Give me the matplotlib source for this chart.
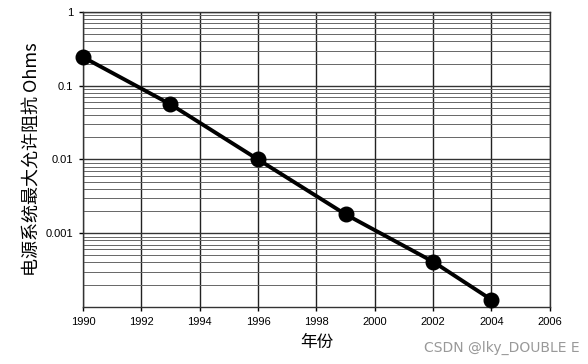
import matplotlib
matplotlib.use("Agg")
import matplotlib.pyplot as plt
from matplotlib.ticker import LogLocator, NullFormatter

plt.rcParams['font.family'] = ['Noto Sans CJK SC', 'DejaVu Sans']

years = [1990, 1993, 1996, 1999, 2002, 2004]
impedance = [0.245, 0.056, 0.010, 0.0018, 0.00041, 0.000125]
x_ticks = [1990, 1992, 1994, 1996, 1998, 2000, 2002, 2004, 2006]
y_ticks = [1, 0.1, 0.01, 0.001]
y_tick_labels = ["1", "0.1", "0.01", "0.001"]

fig = plt.figure(figsize=(5.88, 3.64), dpi=100)
ax = fig.add_axes([0.141, 0.157, 0.794, 0.810])
ax.set_yscale('log')
ax.set_xlim(1990, 2006)
ax.set_ylim(1e-4, 1)

ax.set_xticks(x_ticks)
ax.set_xticklabels([str(t) for t in x_ticks], fontsize=8, family='Liberation Sans')
ax.set_yticks(y_ticks)
ax.set_yticklabels(y_tick_labels, fontsize=8, family='Liberation Sans')
ax.yaxis.set_minor_locator(LogLocator(base=10, subs=range(2, 10)))
ax.yaxis.set_minor_formatter(NullFormatter())

ax.grid(True, which='major', axis='x', color='#222222', linewidth=1.0)
ax.grid(True, which='major', axis='y', color='#333333', linewidth=1.0)
ax.grid(True, which='minor', axis='y', color='#666666', linewidth=0.7)
ax.set_axisbelow(True)

ax.tick_params(axis='both', which='major', length=3, width=1, color='black', pad=4)
ax.tick_params(axis='y', which='minor', length=0)
for s in ax.spines.values():
    s.set_color('#333333')
    s.set_linewidth(1.0)

ax.plot(years, impedance, color='black', linewidth=2.8, marker='o', markersize=10.5,
        markerfacecolor='black', markeredgecolor='black', zorder=5, clip_on=False)

ax.set_ylabel('电源系统最大允许阻抗 Ohms', fontsize=13, labelpad=3)
ax.set_xlabel('年份', fontsize=12, labelpad=5)

fig.text(0.985, 0.025, 'CSDN @lky_DOUBLE E', ha='right', va='bottom', fontsize=10,
         color='#999999', family='DejaVu Sans')

fig.savefig('out.png', dpi=100)
